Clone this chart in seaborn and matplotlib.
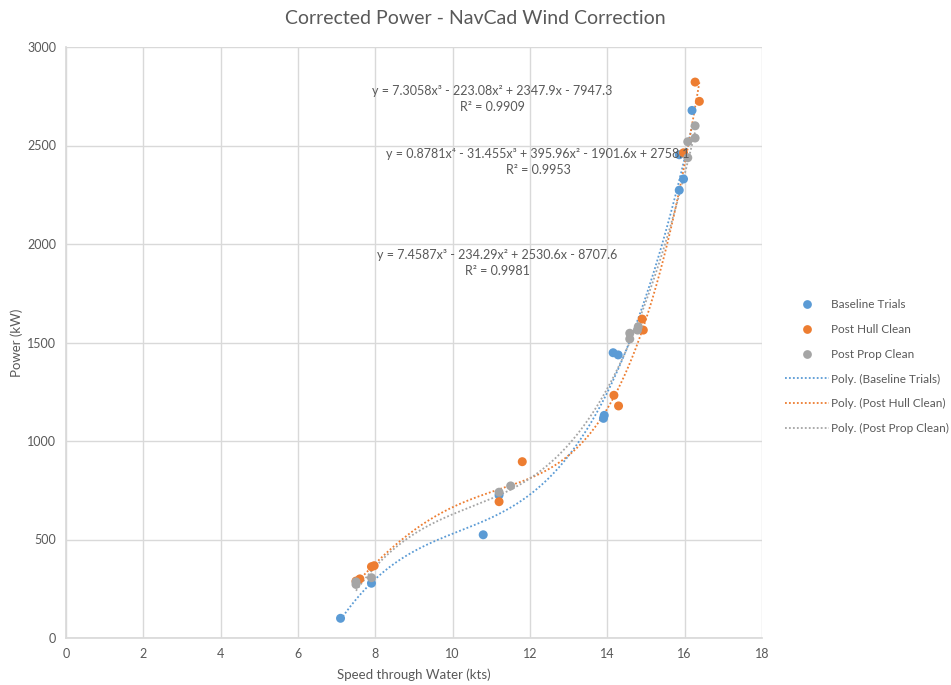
import numpy as np
import pandas as pd
import matplotlib
matplotlib.use("Agg")
import matplotlib.pyplot as plt
import seaborn as sns
from matplotlib.lines import Line2D

# ---- data ----
series_names = ["Baseline Trials", "Post Hull Clean", "Post Prop Clean"]

baseline_x = [7.10, 7.90, 10.79, 11.20, 13.90, 13.92, 14.15, 14.28, 15.86, 15.97, 15.86, 16.19]
baseline_y = [100, 278, 524, 726, 1115, 1130, 1448, 1437, 2273, 2330, 2453, 2678]

hull_x = [7.50, 7.60, 7.90, 7.97, 11.20, 11.80, 14.17, 14.29, 14.93, 14.90, 15.97, 16.27, 16.38]
hull_y = [289, 300, 362, 367, 692, 895, 1232, 1178, 1563, 1619, 2463, 2822, 2724]

prop_x = [7.50, 7.50, 7.90, 11.20, 11.50, 14.58, 14.58, 14.78, 14.80, 16.08, 16.08, 16.27, 16.27]
prop_y = [272, 285, 306, 740, 772, 1518, 1547, 1563, 1580, 2438, 2519, 2538, 2600]

# trendline coefficients (highest power first), as displayed on the chart
baseline_coef = [7.3058, -223.08, 2347.9, -7947.3]
hull_coef = [0.8781, -31.455, 395.96, -1901.6, 2758.1]
prop_coef = [7.4587, -234.29, 2530.6, -8707.6]

eq_texts = [
    "y = 7.3058x³ - 223.08x² + 2347.9x - 7947.3\nR² = 0.9909",
    "y = 0.8781x⁴ - 31.455x³ + 395.96x² - 1901.6x + 2758.1\nR² = 0.9953",
    "y = 7.4587x³ - 234.29x² + 2530.6x - 8707.6\nR² = 0.9981",
]

x_ticks = [0, 2, 4, 6, 8, 10, 12, 14, 16, 18]
y_ticks = [0, 500, 1000, 1500, 2000, 2500, 3000]

colors = ["#5B9BD5", "#ED7D31", "#A5A5A5"]
text_color = "#595959"
grid_color = "#D9D9D9"

sns.set_theme(style="white")
plt.rcParams["font.family"] = ["Lato", "DejaVu Sans"]

pts = pd.DataFrame({
    "x": baseline_x + hull_x + prop_x,
    "y": baseline_y + hull_y + prop_y,
    "series": [series_names[0]] * len(baseline_x) + [series_names[1]] * len(hull_x)
              + [series_names[2]] * len(prop_x),
})

rows = []
for name, xs, coef in zip(series_names, [baseline_x, hull_x, prop_x],
                          [baseline_coef, hull_coef, prop_coef]):
    xx = np.linspace(min(xs), max(xs), 200)
    yy = np.polyval(coef, xx)
    rows.append(pd.DataFrame({"x": xx, "y": yy, "series": "Poly. (" + name + ")"}))
trend = pd.concat(rows, ignore_index=True)

fig = plt.figure(figsize=(9.51, 6.85), dpi=100)
ax = fig.add_axes([66 / 951, 1 - 638 / 685, (762 - 66) / 951, (638 - 47) / 685])

trend_names = ["Poly. (" + n + ")" for n in series_names]
for name, c in zip(trend_names, colors):
    d = trend[trend["series"] == name]
    sns.lineplot(data=d, x="x", y="y", ax=ax, color=c, lw=1.3,
                 linestyle=(0, (1, 1.2)), sort=False, legend=False, zorder=2)

sns.scatterplot(data=pts, x="x", y="y", hue="series", palette=colors,
                hue_order=series_names, s=42, edgecolor="none", ax=ax,
                legend=False, zorder=3)

ax.set_xlim(0, 18)
ax.set_ylim(0, 3000)
ax.set_xticks(x_ticks)
ax.set_yticks(y_ticks)
ax.set_xticklabels([str(t) for t in x_ticks])
ax.set_yticklabels([str(t) for t in y_ticks])
ax.grid(True, color=grid_color, lw=1)
ax.set_axisbelow(True)
for s in ax.spines.values():
    s.set_visible(False)
ax.spines["left"].set_visible(True)
ax.spines["bottom"].set_visible(True)
ax.spines["left"].set_color(grid_color)
ax.spines["bottom"].set_color(grid_color)
ax.tick_params(axis="both", length=0, labelsize=9, colors=text_color, pad=7)

ax.set_xlabel("Speed through Water (kts)", fontsize=9.5, color=text_color, labelpad=6)
ax.set_ylabel("Power (kW)", fontsize=9.5, color=text_color, labelpad=3)

fig.text(475 / 951, 1 - 18 / 685, "Corrected Power - NavCad Wind Correction",
         ha="center", va="center", fontsize=14, color=text_color)

eq_pos = [(492, 99), (538, 162), (497, 263)]
for (px, py), t in zip(eq_pos, eq_texts):
    fig.text(px / 951, 1 - py / 685, t, ha="center", va="center",
             fontsize=9, color=text_color, linespacing=1.45)

handles = []
for n, c in zip(series_names, colors):
    handles.append(Line2D([], [], marker="o", ls="none", color=c, markersize=6.3,
                          markeredgewidth=0, label=n))
for n, c in zip(trend_names, colors):
    handles.append(Line2D([], [], color=c, lw=1.3, ls=(0, (1, 1.2)), label=n))
fig.legend(handles=handles, loc="upper left",
           bbox_to_anchor=(781 / 951, 1 - 295 / 685), frameon=False,
           fontsize=8.5, labelcolor=text_color, handlelength=3.7,
           handletextpad=0.2, labelspacing=1.17, borderaxespad=0, borderpad=0.35)

fig.savefig("out.png", dpi=100)
